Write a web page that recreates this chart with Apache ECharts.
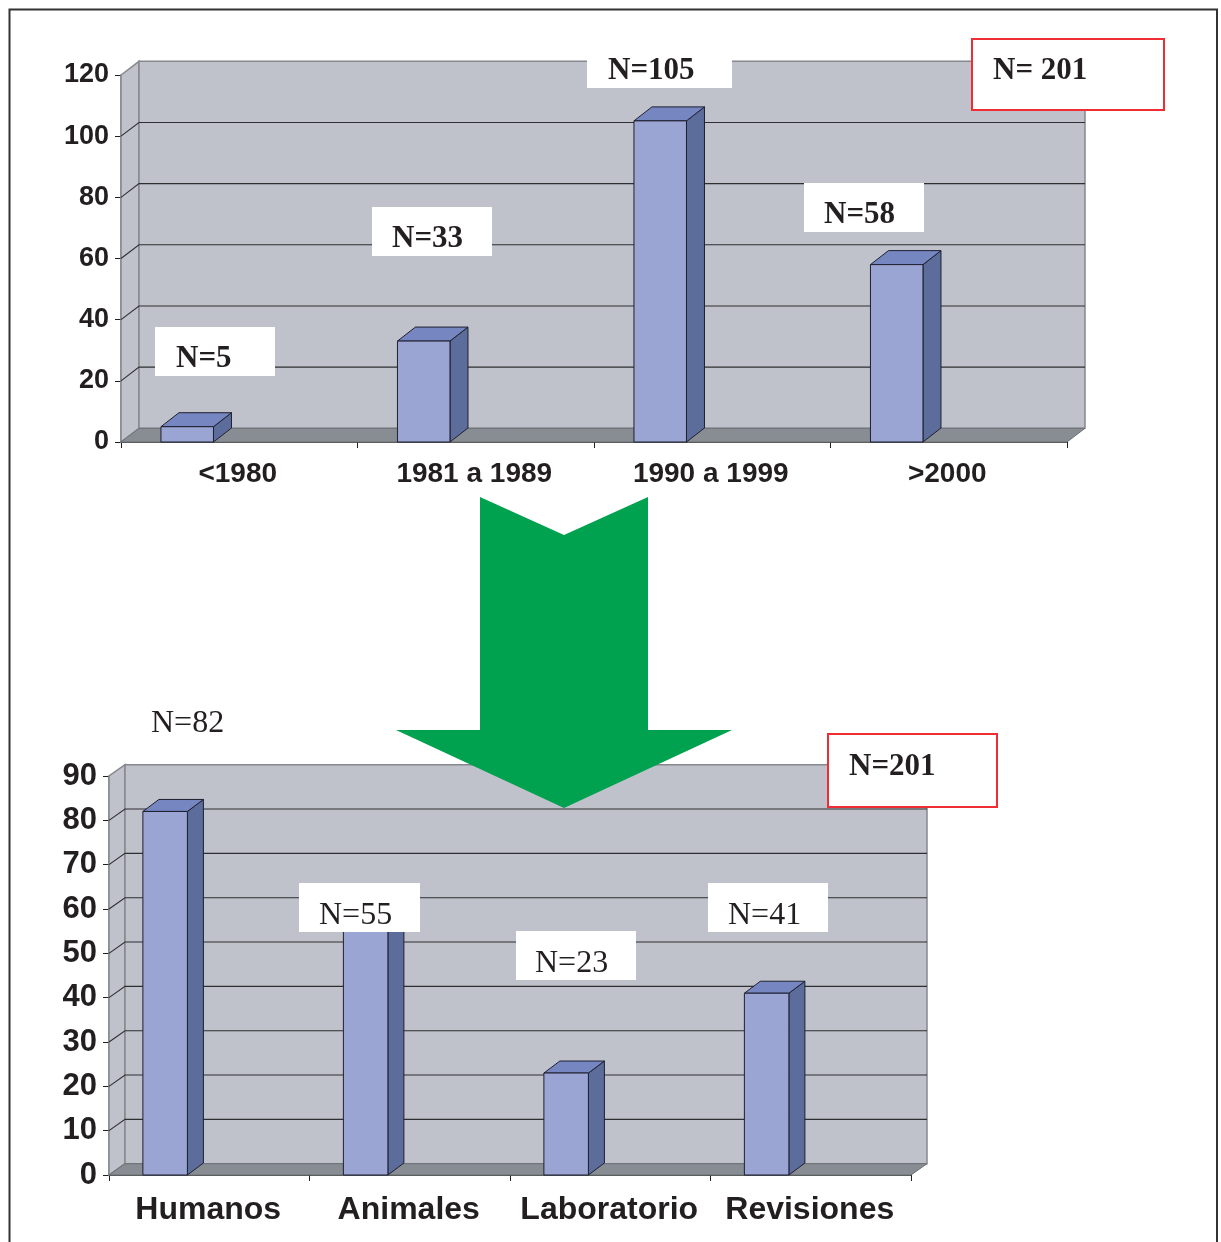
<!DOCTYPE html>
<html><head><meta charset="utf-8">
<style>html,body{margin:0;padding:0;background:#fff;overflow:hidden}#c{width:1221px;height:1242px}</style>
<script src="https://cdn.jsdelivr.net/npm/echarts@6/dist/echarts.min.js"></script>
</head><body><div id="c"></div>
<script>
const periodCategories = ['<1980', '1981 a 1989', '1990 a 1999', '>2000'];
const periodValues = [5, 33, 105, 58];
const periodTicks = [0, 20, 40, 60, 80, 100, 120];
const typeCategories = ['Humanos', 'Animales', 'Laboratorio', 'Revisiones'];
const typeValues = [82, 55, 23, 41];
const typeTicks = [0, 10, 20, 30, 40, 50, 60, 70, 80, 90];

const INK = '#231f20';
const chart = echarts.init(document.getElementById('c'), null, {renderer: 'canvas'});

function wallSeries(gridIndex, ticks, dx, dy) {
  return {
    type: 'custom', xAxisIndex: gridIndex, yAxisIndex: gridIndex, z: 1, silent: true,
    data: [[0, 0]],
    renderItem(params, api) {
      const cs = params.coordSys;
      const L = cs.x, R = cs.x + cs.width, T = cs.y, B = cs.y + cs.height;
      const wallStyle = {fill: '#bfc2ca', stroke: '#85888c', lineWidth: 1.5};
      const children = [
        {type: 'polygon', shape: {points: [[L, B], [L, T], [L + dx, T - dy], [L + dx, B - dy]]}, style: wallStyle},
        {type: 'rect', shape: {x: L + dx, y: T - dy, width: cs.width, height: cs.height}, style: wallStyle},
        {type: 'polygon', shape: {points: [[L, B], [L + dx, B - dy], [R + dx, B - dy], [R, B]]},
         style: {fill: '#878d92', stroke: '#6d7175', lineWidth: 1}}
      ];
      ticks.forEach(t => {
        if (t === ticks[0] || t === ticks[ticks.length - 1]) return;
        const y = api.coord([0, t])[1];
        children.push({type: 'polyline', shape: {points: [[L, y], [L + dx, y - dy], [R + dx, y - dy]]},
          style: {fill: null, stroke: '#2f2f31', lineWidth: 1.1}});
      });
      return {type: 'group', children};
    }
  };
}

function barSeries(gridIndex, values, dx, dy) {
  return {
    type: 'custom', xAxisIndex: gridIndex, yAxisIndex: gridIndex, z: 5, silent: true,
    data: values.map((v, i) => [i, v]),
    renderItem(params, api) {
      const top = api.coord([api.value(0), api.value(1)]);
      const base = api.coord([api.value(0), 0]);
      const band = api.size([1, 0])[0];
      const x0 = top[0] - band * 0.331, x1 = top[0] - band * 0.109;
      const edge = {stroke: '#1f1f30', lineWidth: 1, lineJoin: 'round'};
      return {type: 'group', children: [
        {type: 'polygon', shape: {points: [[x1, base[1]], [x1, top[1]], [x1 + dx, top[1] - dy], [x1 + dx, base[1] - dy]]},
         style: Object.assign({fill: '#5c6d9b'}, edge)},
        {type: 'polygon', shape: {points: [[x0, top[1]], [x0 + dx, top[1] - dy], [x1 + dx, top[1] - dy], [x1, top[1]]]},
         style: Object.assign({fill: '#7686c0'}, edge)},
        {type: 'rect', shape: {x: x0, y: top[1], width: x1 - x0, height: base[1] - top[1]},
         style: Object.assign({fill: '#9aa5d3'}, edge)}
      ]};
    }
  };
}

function note(text, tx, ty, box, opts) {
  const o = opts || {};
  const out = [];
  if (box) out.push({type: 'rect', z: 20, silent: true,
    shape: {x: box[0], y: box[1], width: box[2], height: box[3]},
    style: {fill: '#fff', stroke: o.border || null, lineWidth: o.border ? 2 : 0}});
  out.push({type: 'text', z: 21, silent: true, x: tx, y: ty + 3,
    style: {text, fill: INK, align: 'left', verticalAlign: 'middle',
      font: (o.regular ? '' : 'bold ') + (o.size || 31) + 'px "Liberation Serif"'}});
  return out;
}

function xAxis(gridIndex, cats, size, margin, padding) {
  return {type: 'category', gridIndex, data: cats,
    axisLine: {show: true, lineStyle: {color: '#111', width: 1.5}},
    axisTick: {show: true, length: 6, lineStyle: {color: INK, width: 1}},
    axisLabel: {color: INK, margin, interval: 0, padding, fontSize: size, fontWeight: 'bold', fontFamily: 'Liberation Sans'},
    splitLine: {show: false}};
}
function yAxis(gridIndex, ticks, size, margin, padTop) {
  return {type: 'value', gridIndex, min: ticks[0], max: ticks[ticks.length - 1], interval: ticks[1] - ticks[0],
    axisLine: {show: true, lineStyle: {color: '#7f8286', width: 1.5}},
    axisTick: {show: true, length: 6, lineStyle: {color: INK, width: 1}},
    axisLabel: {color: INK, margin, padding: [padTop, 0, 0, 0], fontSize: size, fontWeight: 'bold', fontFamily: 'Liberation Sans'},
    splitLine: {show: false}};
}

chart.setOption({
  animation: false,
  backgroundColor: '#fff',
  grid: [
    {left: 121, right: 154, top: 75, bottom: 800},
    {left: 109, right: 310, top: 776, bottom: 67}
  ],
  xAxis: [xAxis(0, periodCategories, 28, 18, [0, 3, 0, 0]), xAxis(1, typeCategories, 32, 19, [0, 2, 0, 0])],
  yAxis: [yAxis(0, periodTicks, 27, 12, 7), yAxis(1, typeTicks, 31, 12, 5)],
  series: [
    wallSeries(0, periodTicks, 18, 13.7),
    barSeries(0, periodValues, 18, 14),
    wallSeries(1, typeTicks, 16, 11.3),
    barSeries(1, typeValues, 16, 12)
  ],
  graphic: [
    {type: 'rect', z: 0, silent: true, shape: {x: 9.5, y: 9.5, width: 1207.5, height: 1260},
     style: {fill: null, stroke: '#333', lineWidth: 2}},
    {type: 'polygon', z: 3, silent: true,
     shape: {points: [[480, 497], [564, 535], [648, 497], [648, 730], [732, 730], [564, 808], [396, 730], [480, 730]]},
     style: {fill: '#00a14f'}},
    ...note('N=5', 176, 356, [155, 327, 120, 49]),
    ...note('N=33', 392, 236, [372, 207, 120, 49]),
    ...note('N=105', 608, 68, [587, 50, 145, 38]),
    ...note('N=58', 824, 212, [804, 183, 120, 49]),
    ...note('N= 201', 993, 68, [972, 39, 192, 71], {border: '#ee2e34'}),
    ...note('N=82', 151, 721, null, {regular: true, size: 32}),
    ...note('N=55', 319, 913, [299, 883, 121, 49], {regular: true, size: 32}),
    ...note('N=23', 535, 961, [516, 931, 120, 49], {regular: true, size: 32}),
    ...note('N=41', 728, 913, [708, 883, 120, 49], {regular: true, size: 32}),
    ...note('N=201', 849, 764, [828, 734, 169, 73], {border: '#ee2e34'})
  ]
});
</script></body></html>
